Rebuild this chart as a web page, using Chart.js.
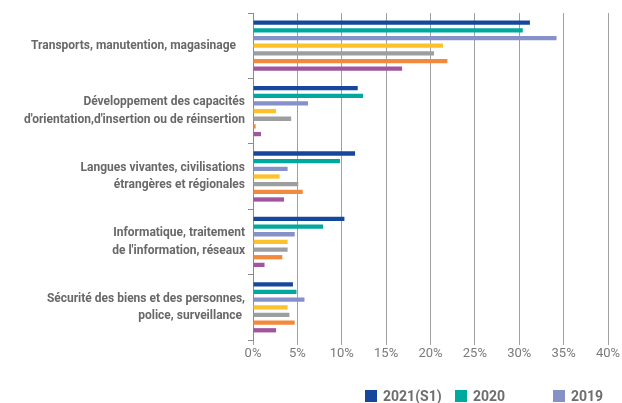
<!DOCTYPE html>
<html>
<head>
<meta charset="utf-8">
<script src="https://cdn.jsdelivr.net/npm/chart.js@4/dist/chart.umd.min.js"></script>
<style>
  html, body { margin: 0; padding: 0; background: #fff; }
  #wrap { position: relative; width: 622px; height: 403px; }
  canvas { display: block; }
  #legend { position: absolute; top: 388px; left: 0; width: 622px; height: 16px;
    font-family: Roboto, "Liberation Sans", sans-serif; font-weight: bold; font-size: 14px; color: #6d6e70; }
  #legend span.item { position: absolute; top: 0; white-space: nowrap; line-height: 16px; }
  #legend span.box { display: inline-block; width: 12px; height: 12px; vertical-align: -1px; margin-right: 6px; }
</style>
</head>
<body>
<div id="wrap">
  <canvas id="chart" width="622" height="403"></canvas>
  <div id="legend"></div>
</div>
<script>
// Catégories (axe vertical)
var categories = [
  ["Transports, manutention, magasinage   "],
  ["Développement des capacités", "d'orientation,d'insertion ou de réinsertion"],
  ["Langues vivantes, civilisations", "étrangères et régionales"],
  ["Informatique, traitement", "de l'information, réseaux"],
  ["Sécurité des biens et des personnes,", "police, surveillance "]
];

// Parts en % par année
var s2021 = [31.2, 11.8, 11.5, 10.3, 4.5];
var s2020 = [30.4, 12.4, 9.8, 7.9, 4.9];
var s2019 = [34.2, 6.2, 3.9, 4.7, 5.8];
var s2018 = [21.4, 2.6, 3.0, 3.9, 3.9];
var s2017 = [20.4, 4.3, 5.1, 3.9, 4.1];
var s2016 = [21.9, 0.3, 5.6, 3.3, 4.7];
var s2015 = [16.8, 0.9, 3.5, 1.3, 2.6];

var seriesLabels = ["2021(S1)", "2020", "2019", "2018", "2017", "2016", "2015"];
var seriesColors = ["#15489c", "#00a99d", "#8591c8", "#fdc12a", "#9c9e9f", "#f28a3e", "#a2559f"];
var seriesData = [s2021, s2020, s2019, s2018, s2017, s2016, s2015];

var xTicks = [0, 5, 10, 15, 20, 25, 30, 35, 40];

var datasets = [];
for (var i = 0; i < seriesData.length; i++) {
  datasets.push({
    label: seriesLabels[i],
    data: seriesData[i],
    backgroundColor: seriesColors[i],
    borderWidth: 0,
    categoryPercentage: 0.82,
    barPercentage: 0.56
  });
}

new Chart(document.getElementById('chart'), {
  type: 'bar',
  data: { labels: categories, datasets: datasets },
  options: {
    indexAxis: 'y',
    responsive: false,
    animation: false,
    layout: { padding: { top: 13, right: 14, left: 0, bottom: 0 } },
    plugins: { legend: { display: false }, tooltip: { enabled: false } },
    scales: {
      x: {
        min: 0, max: 40,
        afterBuildTicks: function(s) { s.ticks = xTicks.map(function(v){ return { value: v }; }); },
        afterFit: function(s) { s.height = 63; },
        border: { display: false },
        grid: { color: '#a0a0a0', lineWidth: 1, tickLength: 5, drawTicks: true },
        ticks: {
          color: '#7a7a7a', padding: 1,
          font: { family: 'Roboto, "Liberation Sans", sans-serif', size: 13 },
          callback: function(v) { return v + '%'; }
        }
      },
      y: {
        afterFit: function(s) { s.width = 253; s.paddingTop = 0; s.paddingBottom = 0; },
        border: { display: true, color: '#8a8a8a', width: 1 },
        grid: { offset: true, drawOnChartArea: false, color: '#8a8a8a', tickLength: 5 },
        ticks: {
          color: '#686868', padding: 3,
          font: { family: 'Roboto, "Liberation Sans", sans-serif', size: 12, weight: 'bold', lineHeight: 1.45 }
        }
      }
    }
  }
});

// Légende (seules les trois premières années sont visibles)
var legendPos = [365, 455, 553];
var legend = document.getElementById('legend');
for (var j = 0; j < legendPos.length; j++) {
  var it = document.createElement('span');
  it.className = 'item';
  it.style.left = legendPos[j] + 'px';
  it.innerHTML = '<span class="box" style="background:' + seriesColors[j] + '"></span>' + seriesLabels[j];
  legend.appendChild(it);
}
</script>
</body>
</html>
